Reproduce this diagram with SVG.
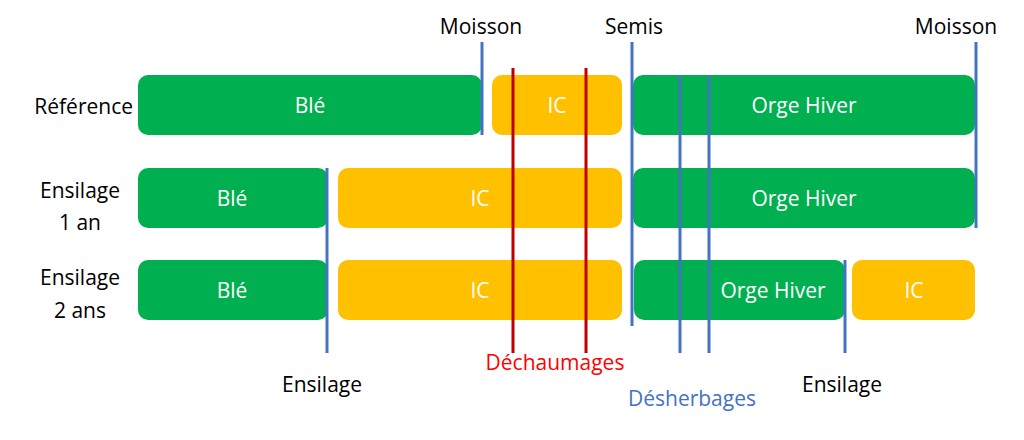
<svg xmlns="http://www.w3.org/2000/svg" width="1024" height="440" viewBox="0 0 1024 440">
<style>
text{font-family:"Open Sans","Liberation Sans",sans-serif;font-size:21px}
.g{fill:#00B050}.y{fill:#FFC000}
.w{fill:#fff;text-anchor:middle}
.k{fill:#000}
.m{text-anchor:middle}
.e{text-anchor:end}
.b{stroke:#4472C4;stroke-width:3}
.r{stroke:#C00000;stroke-width:3}
</style>
<rect width="1024" height="440" fill="#fff"/>
<g id="labels">
<text class="k e" x="133" y="114">Référence</text>
<text class="k m" x="80" y="198">Ensilage</text>
<text class="k m" x="80" y="230">1 an</text>
<text class="k m" x="80" y="285">Ensilage</text>
<text class="k m" x="80" y="318">2 ans</text>
</g>
<g id="row1">
<rect class="g" x="138" y="75" width="344" height="60" rx="10"/><text class="w" x="310" y="113">Blé</text>
<rect class="y" x="492" y="75" width="130" height="60" rx="10"/><text class="w" x="557" y="113">IC</text>
<rect class="g" x="633" y="75" width="342" height="60" rx="10"/><text class="w" x="804" y="113">Orge Hiver</text>
</g>
<g id="row2">
<rect class="g" x="138" y="168" width="190" height="60" rx="10"/><text class="w" x="232" y="206">Blé</text>
<rect class="y" x="338" y="168" width="284" height="60" rx="10"/><text class="w" x="480" y="206">IC</text>
<rect class="g" x="633" y="168" width="342" height="60" rx="10"/><text class="w" x="804" y="206">Orge Hiver</text>
</g>
<g id="row3">
<rect class="g" x="138" y="260" width="190" height="60" rx="10"/><text class="w" x="232" y="298">Blé</text>
<rect class="y" x="338" y="260" width="284" height="60" rx="10"/><text class="w" x="480" y="298">IC</text>
<rect class="g" x="634" y="260" width="211" height="60" rx="10"/><text class="w" x="773" y="298">Orge Hiver</text>
<rect class="y" x="852" y="260" width="123" height="60" rx="10"/><text class="w" x="914" y="298">IC</text>
</g>
<g id="connectors">
<line class="b" x1="482" y1="42" x2="482" y2="135"/>
<line class="b" x1="632" y1="42" x2="632" y2="326"/>
<line class="b" x1="976" y1="42" x2="976" y2="228"/>
<line class="b" x1="327" y1="168" x2="327" y2="353"/>
<line class="b" x1="680" y1="75" x2="680" y2="353"/>
<line class="b" x1="709" y1="75" x2="709" y2="353"/>
<line class="b" x1="845" y1="260" x2="845" y2="353"/>
<line class="r" x1="513" y1="68" x2="513" y2="353"/>
<line class="r" x1="586" y1="68" x2="586" y2="353"/>
</g>
<g id="annotations">
<text class="k m" x="481" y="34">Moisson</text>
<text class="k m" x="634" y="34">Semis</text>
<text class="k m" x="956" y="34">Moisson</text>
<text class="k m" x="322" y="392">Ensilage</text>
<text class="m" x="555" y="370" fill="#FF0000">Déchaumages</text>
<text class="m" x="692" y="406" fill="#4472C4">Désherbages</text>
<text class="k m" x="842" y="392">Ensilage</text>
</g>
</svg>
